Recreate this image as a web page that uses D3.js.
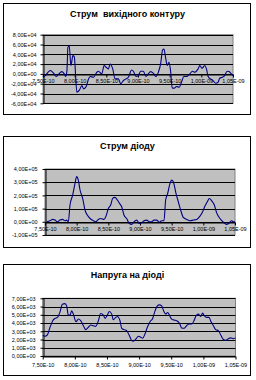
<!DOCTYPE html>
<html>
<head>
<meta charset="utf-8">
<script src="https://cdn.jsdelivr.net/npm/d3@7"></script>
<style>
body{margin:0;background:#fff}
svg{display:block}
</style>
</head>
<body>
<svg id="chart" width="256" height="380"></svg>
<script>
// time is in units of 1e-10 s
var xTicks = [7.5, 8.0, 8.5, 9.0, 9.5, 10.0, 10.5];
var xTickLabels = ["7,50E-10","8,00E-10","8,50E-10","9,00E-10","9,50E-10","1,00E-09","1,05E-09"];

// Струм вихідного контуру (units of 1e4)
var outT = [7.50,7.537,7.589,7.615,7.668,7.710,7.762,7.799,7.836,7.857,7.878,7.893,7.914,7.941,7.972,7.993,8.035,8.077,8.114,8.140,8.182,8.219,8.245,8.297,8.350,8.376,8.428,8.465,8.497,8.533,8.560,8.601,8.638,8.691,8.727,8.769,8.811,8.848,8.900,8.927,8.969,9.005,9.042,9.084,9.126,9.163,9.199,9.241,9.283,9.325,9.357,9.388,9.409,9.435,9.462,9.488,9.514,9.540,9.572,9.609,9.651,9.687,9.724,9.766,9.818,9.860,9.897,9.949,9.976,10.012,10.054,10.081,10.107,10.143,10.185,10.227,10.264,10.290,10.332,10.369,10.406,10.437,10.474,10.50];
var outV = [-0.68,-0.34,0.47,0.68,0.14,-0.54,0.14,0.47,0,-0.54,0.68,5.42,5.76,1.70,3.73,3.53,-3.73,-3.25,-2.37,-3.05,-2.58,-1.02,-0.54,-0.68,0.34,0.54,0,1.70,1.36,1.02,2.03,1.02,-1.02,-1.02,-2.03,-1.36,-1.02,-0.68,0.81,0.54,-0.54,-0.34,0.54,0.54,-0.54,0,0.47,0.14,-0.54,0.47,2.03,4.88,5.09,3.39,1.70,2.37,0.68,-2.85,-2.92,-2.58,-2.71,-1.70,-0.54,-0.54,0,0.54,0.34,1.02,1.70,1.15,1.70,1.02,-0.54,-1.02,-1.36,-1.90,-1.70,-0.88,-0.68,-0.34,0.54,0.47,0,-0.34];
var outTicks = [8,6,4,2,0,-2,-4,-6];
var outLabels = ["8,00E+04","6,00E+04","4,00E+04","2,00E+04","0,00E+00","-2,00E+04","-4,00E+04","-6,00E+04"];

// Струм діоду (units of 1e5)
var diodeT = [7.526,7.579,7.621,7.658,7.695,7.737,7.779,7.816,7.842,7.868,7.895,7.937,7.974,8.000,8.026,8.053,8.095,8.132,8.168,8.211,8.263,8.300,8.342,8.379,8.432,8.463,8.500,8.537,8.568,8.605,8.642,8.684,8.711,8.747,8.789,8.832,8.868,8.905,8.947,8.989,9.026,9.063,9.105,9.147,9.184,9.221,9.263,9.305,9.342,9.379,9.405,9.437,9.474,9.500,9.526,9.568,9.605,9.642,9.684,9.737,9.789,9.842,9.895,9.947,9.989,10.026,10.063,10.095,10.132,10.174,10.211,10.263,10.316,10.368,10.411,10.447,10.474,10.50];
var diodeI = [0,0.08,0.18,0.13,0,0.13,0.18,0.08,0.13,0,1.27,2.03,2.91,3.42,3.16,2.41,1.77,0.89,0.51,0.25,0.08,0,0.18,0.25,0.18,0.43,1.01,1.27,1.77,1.85,1.65,1.34,1.14,0.51,0.25,-0.13,-0.20,0,0.13,-0.13,-0.08,0.08,0.13,0,0,0.13,0.13,-0.03,0.08,0.08,1.65,2.15,2.91,3.16,3.04,2.15,1.52,0.89,0.33,0.18,0.08,0.13,0.18,0.43,0.76,1.19,1.52,1.77,1.59,1.27,0.68,0.25,-0.03,-0.20,-0.08,0.08,0,0];
var diodeTicks = [4,3,2,1,0,-1];
var diodeLabels = ["4,00E+05","3,00E+05","2,00E+05","1,00E+05","0,00E+00","-1,00E+05"];

// Напруга на діоді (units of 1e3)
var voltT = [7.500,7.536,7.573,7.614,7.656,7.692,7.728,7.770,7.806,7.847,7.873,7.899,7.925,7.951,7.977,8.019,8.055,8.091,8.133,8.169,8.210,8.247,8.288,8.325,8.366,8.402,8.444,8.470,8.506,8.537,8.574,8.599,8.636,8.662,8.703,8.729,8.765,8.807,8.848,8.885,8.911,8.952,8.988,9.025,9.056,9.092,9.128,9.170,9.211,9.248,9.284,9.315,9.351,9.388,9.414,9.445,9.471,9.507,9.543,9.585,9.626,9.663,9.699,9.740,9.777,9.818,9.854,9.886,9.922,9.958,9.989,10.015,10.052,10.088,10.119,10.156,10.192,10.233,10.275,10.311,10.348,10.389,10.425,10.467,10.50];
var voltV = [2.48,2.40,2.56,3.48,4.28,4.56,4.68,5.36,6.28,6.36,6.08,4.96,4.96,5.48,5.08,4.16,4.48,4.28,3.68,3.20,3.48,3.76,3.68,3.60,4.28,5.16,4.96,4.56,4.96,5.40,5.08,4.40,4.68,4.80,4.28,3.36,3.20,3.08,2.48,1.88,1.80,2.08,2.40,2.28,2.16,2.68,3.48,4.16,4.56,5.48,6.08,6.20,6.08,5.36,5.08,5.28,4.96,4.48,4.36,4.28,4.00,3.40,3.36,3.68,3.88,3.88,4.28,4.88,5.08,4.80,5.20,4.88,4.68,4.68,4.16,3.68,3.20,3.08,2.48,2.00,1.90,2.10,2.20,2.10,2.20];
var voltTicks = [7,6,5,4,3,2,1,0];
var voltLabels = ["7,00E+03","6,00E+03","5,00E+03","4,00E+03","3,00E+03","2,00E+03","1,00E+03","0,00E+00"];

var svg = d3.select("#chart");
var font = "'Liberation Sans', Arial, sans-serif";

function drawChart(cfg) {
  var g = svg.append("g");

  // outer frame
  g.append("rect")
    .attr("x", cfg.box[0] + 0.5).attr("y", cfg.box[1] + 0.5)
    .attr("width", cfg.box[2]).attr("height", cfg.box[3])
    .attr("fill", "#fff").attr("stroke", "#000").attr("stroke-width", 1);

  g.append("text")
    .attr("x", cfg.box[0] + cfg.box[2] / 2 + 1)
    .attr("y", cfg.titleY)
    .attr("text-anchor", "middle")
    .style("font-family", font)
    .style("font-size", "9px")
    .style("font-weight", "bold")
    .style("white-space", "pre")
    .text(cfg.title);

  var x = d3.scaleLinear().domain([7.5, 10.5]).range([cfg.left, cfg.right]);
  var y = d3.scaleLinear().domain([cfg.ticks[cfg.ticks.length - 1], cfg.ticks[0]])
    .range([cfg.bottom, cfg.top]);

  // plot area
  g.append("rect")
    .attr("x", cfg.left).attr("y", cfg.top)
    .attr("width", cfg.right - cfg.left).attr("height", cfg.bottom - cfg.top)
    .attr("fill", "#c0c0c0").attr("stroke", "#808080").attr("stroke-width", 1);

  // gridlines
  g.append("g").selectAll("line")
    .data(cfg.ticks)
    .enter().append("line")
    .attr("x1", cfg.left).attr("x2", cfg.right)
    .attr("y1", function(d) { return Math.round(y(d)) + 0.5; })
    .attr("y2", function(d) { return Math.round(y(d)) + 0.5; })
    .attr("stroke", "#000").attr("stroke-width", 1);

  // y axis
  var ya = g.append("g")
    .attr("transform", "translate(" + (Math.round(cfg.left) + 0.5) + ",0)")
    .call(d3.axisLeft(y).tickValues(cfg.ticks)
      .tickFormat(function(d, i) { return cfg.labels[i]; })
      .tickSize(3).tickSizeOuter(0).tickPadding(cfg.yPad));
  ya.selectAll("text").style("font-family", font).style("font-size", "5.5px").attr("fill", "#000");
  ya.selectAll("line,path").attr("stroke", "#000");

  // x axis at zero
  var xa = g.append("g")
    .attr("transform", "translate(0," + (Math.round(y(0)) + 0.5) + ")")
    .call(d3.axisBottom(x).tickValues(xTicks)
      .tickFormat(function(d, i) { return xTickLabels[i]; })
      .tickSize(3).tickSizeOuter(0).tickPadding(cfg.xPad));
  xa.selectAll("text").style("font-family", font).style("font-size", "5.5px").attr("fill", "#000");
  xa.selectAll("line,path").attr("stroke", "#000");

  var line = d3.line()
    .x(function(d) { return x(d[0]); })
    .y(function(d) { return y(d[1]); })
    .curve(d3.curveMonotoneX);

  g.append("path")
    .datum(d3.zip(cfg.t, cfg.v))
    .attr("d", line)
    .attr("fill", "none")
    .attr("stroke", "#000080")
    .attr("stroke-width", 1.1);
}

drawChart({
  box: [3, 3, 247, 111], title: "Струм  вихідного контуру", titleY: 16.5,
  left: 43, right: 233, top: 34.7, bottom: 103.3,
  ticks: outTicks, labels: outLabels, yPad: 4, xPad: 1.5,
  t: outT, v: outV
});

drawChart({
  box: [3, 136, 247, 111], title: "Струм діоду", titleY: 149,
  left: 45, right: 235, top: 169, bottom: 235,
  ticks: diodeTicks, labels: diodeLabels, yPad: 5, xPad: 1.5,
  t: diodeT, v: diodeI
});

drawChart({
  box: [3, 264, 247, 111], title: "Напруга на діоді", titleY: 278,
  left: 42.7, right: 235.5, top: 298.3, bottom: 356,
  ticks: voltTicks, labels: voltLabels, yPad: 5, xPad: 3.5,
  t: voltT, v: voltV
});
</script>
</body>
</html>
